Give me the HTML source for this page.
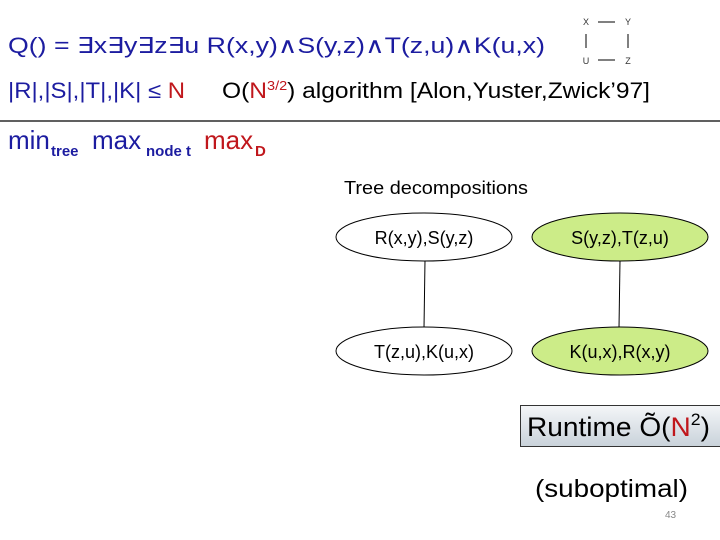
<!DOCTYPE html>
<html><head><meta charset="utf-8"><style>
html,body{margin:0;padding:0;background:#fff;}
svg{display:block;}
text{font-family:"Liberation Sans","DejaVu Sans",sans-serif;}
</style></head><body>
<svg width="720" height="540" viewBox="0 0 720 540" xmlns="http://www.w3.org/2000/svg">
<defs>
<linearGradient id="g" x1="0" y1="0" x2="0" y2="1">
<stop offset="0" stop-color="#f4f6f8"/><stop offset="1" stop-color="#c9d2da"/>
</linearGradient>
</defs>
<text x="8" y="53" font-size="22" fill="#1c1ca0" textLength="537" lengthAdjust="spacingAndGlyphs">Q() = ∃x∃y∃z∃u R(x,y)∧S(y,z)∧T(z,u)∧K(u,x)</text>
<g font-size="9" fill="#333" text-anchor="middle">
<text x="586" y="25">X</text><text x="628" y="25">Y</text>
<text x="586" y="64">U</text><text x="628" y="64">Z</text>
</g>
<g stroke="#000" stroke-width="1">
<line x1="598" y1="22" x2="615" y2="22"/><line x1="598" y1="60" x2="615" y2="60"/>
<line x1="586" y1="34" x2="586" y2="48"/><line x1="628" y1="34" x2="628" y2="48"/>
</g>
<text x="8" y="98" font-size="22" fill="#1c1ca0" textLength="177" lengthAdjust="spacingAndGlyphs">|R|,|S|,|T|,|K| ≤ <tspan fill="#c0171c">N</tspan></text>
<text x="222" y="98" font-size="22" fill="#000" textLength="428" lengthAdjust="spacingAndGlyphs">O(<tspan fill="#c0171c">N</tspan><tspan font-size="13" dy="-8" fill="#c0171c">3/2</tspan><tspan dy="8">) algorithm [Alon,Yuster,Zwick’97]</tspan></text>
<line x1="0" y1="121" x2="720" y2="121" stroke="#000" stroke-width="1.2"/>
<text x="8" y="149" font-size="26" fill="#1c1ca0">min</text>
<text x="51" y="156" font-size="15" font-weight="bold" fill="#1c1ca0">tree</text>
<text x="92" y="149" font-size="26" fill="#1c1ca0">max</text>
<text x="146" y="156" font-size="15" font-weight="bold" fill="#1c1ca0">node t</text>
<text x="204" y="149" font-size="26" fill="#c0171c">max</text>
<text x="255" y="156" font-size="15" font-weight="bold" fill="#c0171c">D</text>
<text x="344" y="194" font-size="18" fill="#000" textLength="184" lengthAdjust="spacingAndGlyphs">Tree decompositions</text>
<line x1="425" y1="260" x2="424" y2="328" stroke="#000"/>
<line x1="620" y1="260" x2="619" y2="328" stroke="#000"/>
<ellipse cx="424" cy="237" rx="88" ry="24" fill="#fff" stroke="#000"/>
<ellipse cx="620" cy="237" rx="88" ry="24" fill="#ccec88" stroke="#000"/>
<ellipse cx="424" cy="351" rx="88" ry="24" fill="#fff" stroke="#000"/>
<ellipse cx="620" cy="351" rx="88" ry="24" fill="#ccec88" stroke="#000"/>
<g font-size="18" fill="#000" text-anchor="middle">
<text x="424" y="244">R(x,y),S(y,z)</text>
<text x="620" y="244">S(y,z),T(z,u)</text>
<text x="424" y="358">T(z,u),K(u,x)</text>
<text x="620" y="358">K(u,x),R(x,y)</text>
</g>
<rect x="520.5" y="405.5" width="205" height="41" fill="url(#g)" stroke="#333"/>
<text x="527" y="436" font-size="27" fill="#000" textLength="183" lengthAdjust="spacingAndGlyphs">Runtime Õ(<tspan fill="#c0171c">N</tspan><tspan font-size="17" dy="-11">2</tspan><tspan dy="11">)</tspan></text>
<text x="535" y="497" font-size="25" fill="#000" textLength="153" lengthAdjust="spacingAndGlyphs">(suboptimal)</text>
<text x="665" y="518" font-size="10" fill="#888">43</text>
</svg>
</body></html>
